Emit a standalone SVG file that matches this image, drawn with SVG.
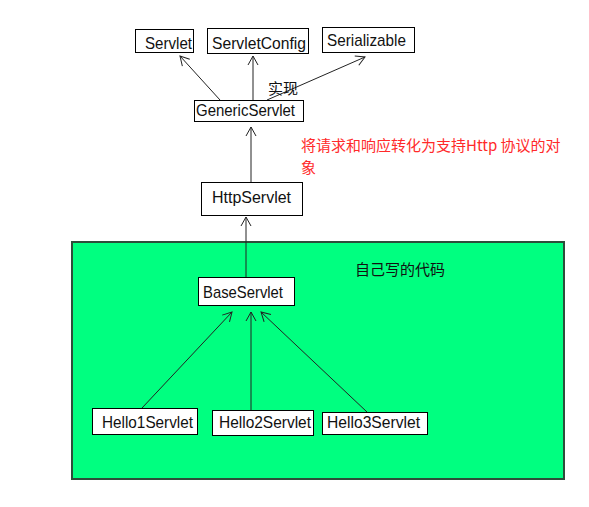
<svg xmlns="http://www.w3.org/2000/svg" width="589" height="507" viewBox="0 0 589 507">
<style>
.box{fill:#fff;stroke:#000;stroke-width:1}
.lbl{font-family:"Liberation Sans","Noto Sans CJK SC",sans-serif;font-size:17px;fill:#111}
.cjk{font-family:"Noto Sans CJK SC","Liberation Sans",sans-serif;font-size:15px}
.edge{stroke:#222;stroke-width:1;fill:none;marker-end:url(#open)}
</style>
<defs>
<marker id="open" viewBox="0 0 12 12" refX="10" refY="6" markerWidth="12" markerHeight="12" markerUnits="userSpaceOnUse" orient="auto">
<path d="M1,1 L10,6 L1,11" fill="none" stroke="#222" stroke-width="1"/>
</marker>
</defs>
<rect width="589" height="507" fill="#fff"/>
<g id="own-code-area">
<rect x="72" y="242" width="492" height="237" fill="#00ff80" stroke="#2d4d3a" stroke-width="2"/>
<text class="cjk" x="355" y="275" fill="#111">自己写的代码</text>
</g>
<g id="connectors">
<line class="edge" x1="220" y1="100" x2="180" y2="56"/>
<line class="edge" x1="253" y1="100" x2="253" y2="56"/>
<line class="edge" x1="267" y1="100" x2="365" y2="57"/>
<line class="edge" x1="251" y1="182" x2="251" y2="127"/>
<line class="edge" x1="246" y1="277" x2="246" y2="217"/>
<line class="edge" x1="142" y1="408" x2="232" y2="312"/>
<line class="edge" x1="251" y1="410" x2="251" y2="312"/>
<line class="edge" x1="367" y1="412" x2="261" y2="312"/>
<text class="cjk" x="268" y="94" fill="#111">实现</text>
</g>
<g id="servlet"><rect class="box" x="135.5" y="29.5" width="58" height="23"/><text class="lbl" x="145" y="49" textLength="47" lengthAdjust="spacingAndGlyphs">Servlet</text></g>
<g id="servletconfig"><rect class="box" x="207.5" y="28.5" width="101" height="25"/><text class="lbl" x="212" y="49" textLength="94" lengthAdjust="spacingAndGlyphs">ServletConfig</text></g>
<g id="serializable"><rect class="box" x="322.5" y="27.5" width="92" height="25"/><text class="lbl" x="327" y="46" textLength="79" lengthAdjust="spacingAndGlyphs">Serializable</text></g>
<g id="genericservlet"><rect class="box" x="194.5" y="100.5" width="109" height="21"/><text class="lbl" x="196" y="116" textLength="99" lengthAdjust="spacingAndGlyphs">GenericServlet</text></g>
<g id="httpservlet"><rect class="box" x="201.5" y="182.5" width="101" height="33"/><text class="lbl" x="212" y="203" textLength="79" lengthAdjust="spacingAndGlyphs">HttpServlet</text></g>
<g id="note"><text class="cjk" fill="#ff2a2a"><tspan x="301" y="151">将请求和响应转化为支持Http 协议的对</tspan><tspan x="301" y="173">象</tspan></text></g>
<g id="baseservlet"><rect class="box" x="198.5" y="277.5" width="96" height="28"/><text class="lbl" x="203" y="298" textLength="80" lengthAdjust="spacingAndGlyphs">BaseServlet</text></g>
<g id="hello1servlet"><rect class="box" x="92.5" y="408.5" width="105" height="26"/><text class="lbl" x="102" y="428" textLength="91" lengthAdjust="spacingAndGlyphs">Hello1Servlet</text></g>
<g id="hello2servlet"><rect class="box" x="212.5" y="410.5" width="101" height="25"/><text class="lbl" x="219" y="428" textLength="92" lengthAdjust="spacingAndGlyphs">Hello2Servlet</text></g>
<g id="hello3servlet"><rect class="box" x="322.5" y="412.5" width="105" height="22"/><text class="lbl" x="327" y="428" textLength="93" lengthAdjust="spacingAndGlyphs">Hello3Servlet</text></g>
</svg>
